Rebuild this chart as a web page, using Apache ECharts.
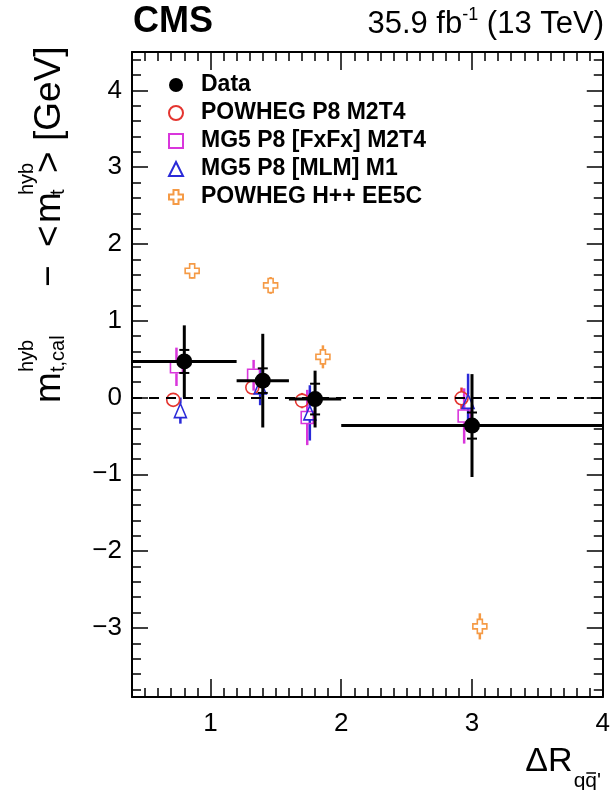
<!DOCTYPE html>
<html>
<head>
<meta charset="utf-8">
<script src="https://cdn.jsdelivr.net/npm/echarts@6/dist/echarts.min.js"></script>
<style>
  html, body { margin: 0; padding: 0; background: #fff; }
  #chart { width: 613px; height: 790px; }
</style>
</head>
<body>
<div id="chart"></div>
<script>
// bins in dR(q qbar')
var binCenters = [0.8, 1.4, 1.8, 3.0];
var binLow = [0.4, 1.2, 1.6, 2.0];
var binHigh = [1.2, 1.6, 2.0, 4.0];
var dataY = [0.47, 0.22, -0.02, -0.365];
var dataErrTot = [0.47, 0.61, 0.37, 0.67];
var dataErrStat = [0.15, 0.16, 0.2, 0.17];

// POWHEG P8 M2T4
var powhegX = [0.715, 1.32, 1.70, 2.92];
var powhegY = [-0.03, 0.13, -0.04, -0.01];
var powhegErr = [0.08, 0.08, 0.1, 0.14];
// MG5 P8 [FxFx] M2T4
var fxfxX = [0.74, 1.33, 1.74, 2.94];
var fxfxY = [0.40, 0.29, -0.26, -0.24];
var fxfxErr = [0.25, 0.2, 0.36, 0.36];
// MG5 P8 [MLM] M1
var mlmX = [0.77, 1.38, 1.76, 2.97];
var mlmY = [-0.17, 0.14, -0.2, -0.05];
var mlmErr = [0.17, 0.24, 0.36, 0.36];
// POWHEG H++ EE5C
var herwigX = [0.86, 1.46, 1.86, 3.06];
var herwigY = [1.65, 1.46, 0.53, -2.98];
var herwigErr = [0.1, 0.11, 0.15, 0.17];

var xLabels = [1, 2, 3, 4];
var yLabels = [-3, -2, -1, 0, 1, 2, 3, 4];
var xMajor = [1, 2, 3];

var xMinor = [];
for (var k = 5; k < 40; k++) if (k % 10) xMinor.push(k / 10);
var yMinor = [];
for (var j = -19; j <= 22; j++) if (j % 5) yMinor.push(j / 5);

var FONT = '"Liberation Sans", Arial, Helvetica, sans-serif';
var cRed = '#e4342f', cMag = '#d936dc', cBlue = '#2a2ad8', cOrange = '#f59a45';

var crossPath = 'path://M32,0 L68,0 L68,32 L100,32 L100,68 L68,68 L68,100 L32,100 L32,68 L0,68 L0,32 L32,32 Z';

var measureCtx = document.createElement('canvas').getContext('2d');
function tw(s, size, weight) {
  measureCtx.font = (weight || 'normal') + ' ' + size + 'px ' + FONT;
  return measureCtx.measureText(s).width;
}

function axis(pos, min, max, ticks, len, labels, showLine) {
  return {
    type: 'value', position: pos, min: min, max: max,
    splitLine: { show: false },
    axisLine: { show: showLine, onZero: false, lineStyle: { color: '#000', width: 2 } },
    axisTick: { show: true, inside: true, length: len, customValues: ticks,
      lineStyle: { color: '#000', width: 1.5 } },
    axisLabel: labels ? {
      show: true, customValues: labels, fontFamily: FONT, fontSize: 26, color: '#000',
      margin: pos === 'left' ? 10 : 14,
      formatter: function (v) { return v < 0 ? '\u2212' + Math.abs(v) : String(v); }
    } : { show: false }
  };
}

function modelErr(name, xs, ys, errs, color, gap) {
  return {
    type: 'custom', name: name + ' err', silent: true, z: 2,
    data: xs.map(function (x, i) { return [x, ys[i], errs[i]]; }),
    encode: { x: 0, y: 1 },
    renderItem: function (params, api) {
      var c = api.coord([api.value(0), api.value(1)]);
      var hi = api.coord([api.value(0), api.value(1) + api.value(2)]);
      var lo = api.coord([api.value(0), api.value(1) - api.value(2)]);
      var ch = [];
      if (c[1] - hi[1] > gap) ch.push({ type: 'line', shape: { x1: c[0], y1: hi[1], x2: c[0], y2: c[1] - gap },
        style: { stroke: color, lineWidth: 2.5 } });
      if (lo[1] - c[1] > gap) ch.push({ type: 'line', shape: { x1: c[0], y1: c[1] + gap, x2: c[0], y2: lo[1] },
        style: { stroke: color, lineWidth: 2.5 } });
      return { type: 'group', children: ch };
    }
  };
}

function modelPts(name, xs, ys, symbol, size, color) {
  return {
    type: 'scatter', name: name, z: 3, symbol: symbol, symbolSize: size, symbolKeepAspect: true,
    data: xs.map(function (x, i) { return [x, ys[i]]; }),
    itemStyle: { color: 'transparent', borderColor: color, borderWidth: 1.6, opacity: 1 },
    emphasis: { disabled: true }
  };
}

var dataErr = {
  type: 'custom', name: 'Data err', silent: true, z: 5,
  data: binCenters.map(function (x, i) { return [x, dataY[i], dataErrTot[i], dataErrStat[i], binLow[i], binHigh[i]]; }),
  encode: { x: 0, y: 1 },
  renderItem: function (params, api) {
    var x = api.value(0), y = api.value(1), et = api.value(2), es = api.value(3);
    var c = api.coord([x, y]);
    var l = api.coord([api.value(4), y]), r = api.coord([api.value(5), y]);
    var t = api.coord([x, y + et]), b = api.coord([x, y - et]);
    var st = api.coord([x, y + es]), sb = api.coord([x, y - es]);
    var s = { stroke: '#000', lineWidth: 3 };
    return { type: 'group', children: [
      { type: 'line', shape: { x1: l[0], y1: c[1], x2: r[0], y2: c[1] }, style: s },
      { type: 'line', shape: { x1: c[0], y1: t[1], x2: c[0], y2: b[1] }, style: s },
      { type: 'line', shape: { x1: c[0] - 5, y1: st[1], x2: c[0] + 5, y2: st[1] }, style: { stroke: '#000', lineWidth: 2 } },
      { type: 'line', shape: { x1: c[0] - 5, y1: sb[1], x2: c[0] + 5, y2: sb[1] }, style: { stroke: '#000', lineWidth: 2 } }
    ] };
  },
  markLine: {
    silent: true, symbol: 'none', label: { show: false },
    lineStyle: { color: '#000', width: 2, type: [10, 7] },
    data: [{ yAxis: 0 }]
  }
};

function txt(s, x, y, size, weight, align) {
  return { type: 'text', x: x, y: y, silent: true,
    style: { text: s, fontSize: size, fontFamily: FONT, fontWeight: weight || 'normal', fill: '#000',
      textAlign: align || 'left', textVerticalAlign: 'middle', verticalAlign: 'middle' } };
}

// y axis title (rotated)
var F = 37, S = 20;
var yTitle = { type: 'group', x: 50, y: 403, rotation: Math.PI / 2, children: [
  txt('m', 0, 0, F), txt('hyb', 31, -23, S), txt('t,cal', 31, 8, S),
  txt('\u2212', 116, 0, F), txt('<', 156, 0, F), txt('m', 180, 0, F),
  txt('hyb', 208, -23, S), txt('t', 208, 8, S), txt('>', 230, 0, F), txt('[GeV]', 262, 0, F)
] };

// x axis title
var xF = 34, xS = 21;
var wDR = tw('\u0394R', xF);
var xt0 = 602 - wDR - tw('qq\'', xS) - 2;
var wq = tw('q', xS);
var xTitle = [
  txt('\u0394R', xt0, 762, xF),
  txt('qq\'', xt0 + wDR + 1, 781, xS),
  { type: 'line', silent: true, shape: { x1: xt0 + wDR + 1 + wq + 1, y1: 773, x2: xt0 + wDR + 1 + 2 * wq - 1, y2: 773 },
    style: { stroke: '#000', lineWidth: 1.5 } }
];

// lumi text
var lF = 31, lS = 18;
var p1 = '35.9 fb', p2 = '-1', p3 = ' (13 TeV)';
var lx = 604 - tw(p1, lF) - tw(p2, lS) - tw(p3, lF);
var lumi = [
  txt(p1, lx, 24, lF),
  txt(p2, lx + tw(p1, lF), 15, lS),
  txt(p3, lx + tw(p1, lF) + tw(p2, lS), 24, lF)
];

var chart = echarts.init(document.getElementById('chart'));
chart.setOption({
  animation: false,
  backgroundColor: '#fff',
  grid: { left: 132, right: 10, top: 52, bottom: 93 },
  legend: {
    data: ['Data', 'POWHEG P8 M2T4', 'MG5 P8 [FxFx] M2T4', 'MG5 P8 [MLM] M1', 'POWHEG H++ EE5C'],
    orient: 'vertical', left: 163, top: 68, itemWidth: 14, itemHeight: 14, itemGap: 4,
    selectedMode: false,
    textStyle: { fontFamily: FONT, fontWeight: 'bold', fontSize: 23, color: '#000', lineHeight: 24,
      padding: [0, 0, 0, 13] }
  },
  xAxis: [
    axis('bottom', 0.4, 4, xMajor, 18, xLabels, true),
    axis('bottom', 0.4, 4, xMinor, 9, null, false),
    axis('top', 0.4, 4, xMajor, 18, null, true),
    axis('top', 0.4, 4, xMinor, 9, null, false)
  ],
  yAxis: [
    axis('left', -3.9, 4.5, yLabels, 16, yLabels, true),
    axis('left', -3.9, 4.5, yMinor, 9, null, false),
    axis('right', -3.9, 4.5, yLabels, 16, null, true),
    axis('right', -3.9, 4.5, yMinor, 9, null, false)
  ],
  series: [
    modelErr('POWHEG P8 M2T4', powhegX, powhegY, powhegErr, cRed, 6.5),
    modelErr('MG5 P8 [FxFx] M2T4', fxfxX, fxfxY, fxfxErr, cMag, 6.5),
    modelErr('MG5 P8 [MLM] M1', mlmX, mlmY, mlmErr, cBlue, 7),
    modelErr('POWHEG H++ EE5C', herwigX, herwigY, herwigErr, cOrange, 7),
    modelPts('POWHEG P8 M2T4', powhegX, powhegY, 'circle', 13, cRed),
    modelPts('MG5 P8 [FxFx] M2T4', fxfxX, fxfxY, 'rect', 12, cMag),
    modelPts('MG5 P8 [MLM] M1', mlmX, mlmY, 'triangle', [12, 14], cBlue),
    modelPts('POWHEG H++ EE5C', herwigX, herwigY, crossPath, 14, cOrange),
    dataErr,
    {
      type: 'scatter', name: 'Data', z: 6, symbol: 'circle', symbolSize: 16,
      data: binCenters.map(function (x, i) { return [x, dataY[i]]; }),
      itemStyle: { color: '#000', opacity: 1 }, emphasis: { disabled: true }
    }
  ],
  graphic: [txt('CMS', 133, 22, 36, 'bold'), yTitle].concat(xTitle, lumi)
});
</script>
</body>
</html>
